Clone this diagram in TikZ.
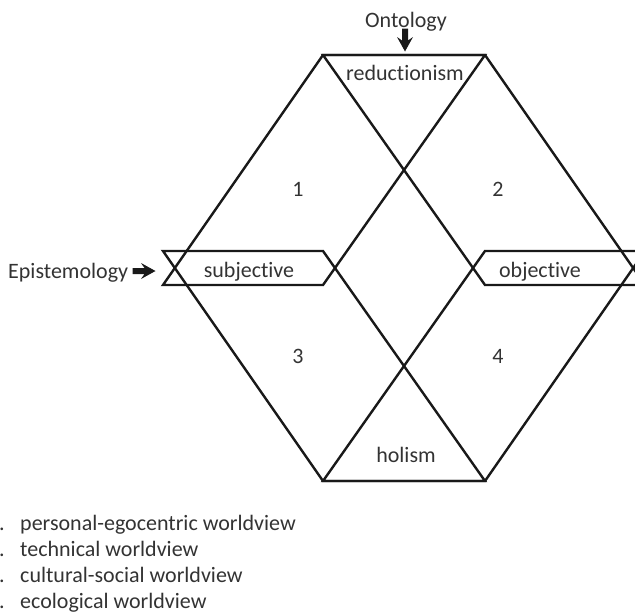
\documentclass[tikz,border=0pt]{standalone}
\usepackage{fontspec}
\setmainfont{Carlito}[Ligatures={NoCommon}]
\begin{document}
\begin{tikzpicture}[x=1pt,y=-1pt,
  frame/.style={line width=2.4pt, draw=black!90, line join=miter},
  lbl/.style={font=\fontsize{22}{26}\selectfont, text=black!80, inner sep=0pt},
  heavyarrow/.pic={
    \fill[black!90] (-11.5,-3) -- (0.5,-3) -- (-3,-8) -- (11.5,0)
      -- (-3,8) -- (0.5,3) -- (-11.5,3) -- cycle;
  }
]
\useasboundingbox (0,0) rectangle (635,616);
\clip (0,0) rectangle (635,616);

% corners of the four overlapping parallelograms
\coordinate (T1) at (323,55);
\coordinate (T2) at (485,55);
\coordinate (B1) at (323,481);
\coordinate (B2) at (485,481);
\coordinate (SLt) at (163,251);
\coordinate (SLb) at (163,285);
\coordinate (SRt) at (323,251);
\coordinate (SRb) at (323,285);
\coordinate (OLt) at (485,251);
\coordinate (OLb) at (485,285);
\coordinate (ORt) at (645,251);
\coordinate (ORb) at (645,285);

\draw[frame] (T1) -- (SLb) -- (SRb) -- (T2) -- cycle;
\draw[frame] (T2) -- (ORb) -- (OLb) -- (T1) -- cycle;
\draw[frame] (B1) -- (SLt) -- (SRt) -- (B2) -- cycle;
\draw[frame] (B2) -- (ORt) -- (OLt) -- (B1) -- cycle;

% axis labels with their pointers
\node[lbl, anchor=base] (onto) at (406,27) {Ontology};
\pic[rotate=-90] (ontoarrow) at (405,40) {heavyarrow};
\node[lbl, anchor=base west] (episte) at (8,278) {Epistemology};
\pic (epiarrow) at (144,271) {heavyarrow};

% pole labels
\node[lbl, anchor=base] (reduc) at (405,80) {reductionism};
\node[lbl, anchor=base] (holism) at (406,462) {holism};
\node[lbl, anchor=base] (subj) at (249,277) {subjective};
\node[lbl, anchor=base] (obj) at (540,277) {objective};

% quadrant numbers
\node[lbl, anchor=base] (q1) at (298,196) {1};
\node[lbl, anchor=base] (q2) at (498,196) {2};
\node[lbl, anchor=base] (q3) at (298,363) {3};
\node[lbl, anchor=base] (q4) at (498,363) {4};

% key
\node[lbl, anchor=base west] (d1) at (-1,530) {.};
\node[lbl, anchor=base west] (d2) at (-1,556) {.};
\node[lbl, anchor=base west] (d3) at (-1,582) {.};
\node[lbl, anchor=base west] (d4) at (-1,608) {.};
\node[lbl, anchor=base west] (k1) at (20,530) {personal-egocentric worldview};
\node[lbl, anchor=base west] (k2) at (20,556) {technical worldview};
\node[lbl, anchor=base west] (k3) at (20,582) {cultural-social worldview};
\node[lbl, anchor=base west] (k4) at (20,608) {ecological worldview};
\end{tikzpicture}
\end{document}
